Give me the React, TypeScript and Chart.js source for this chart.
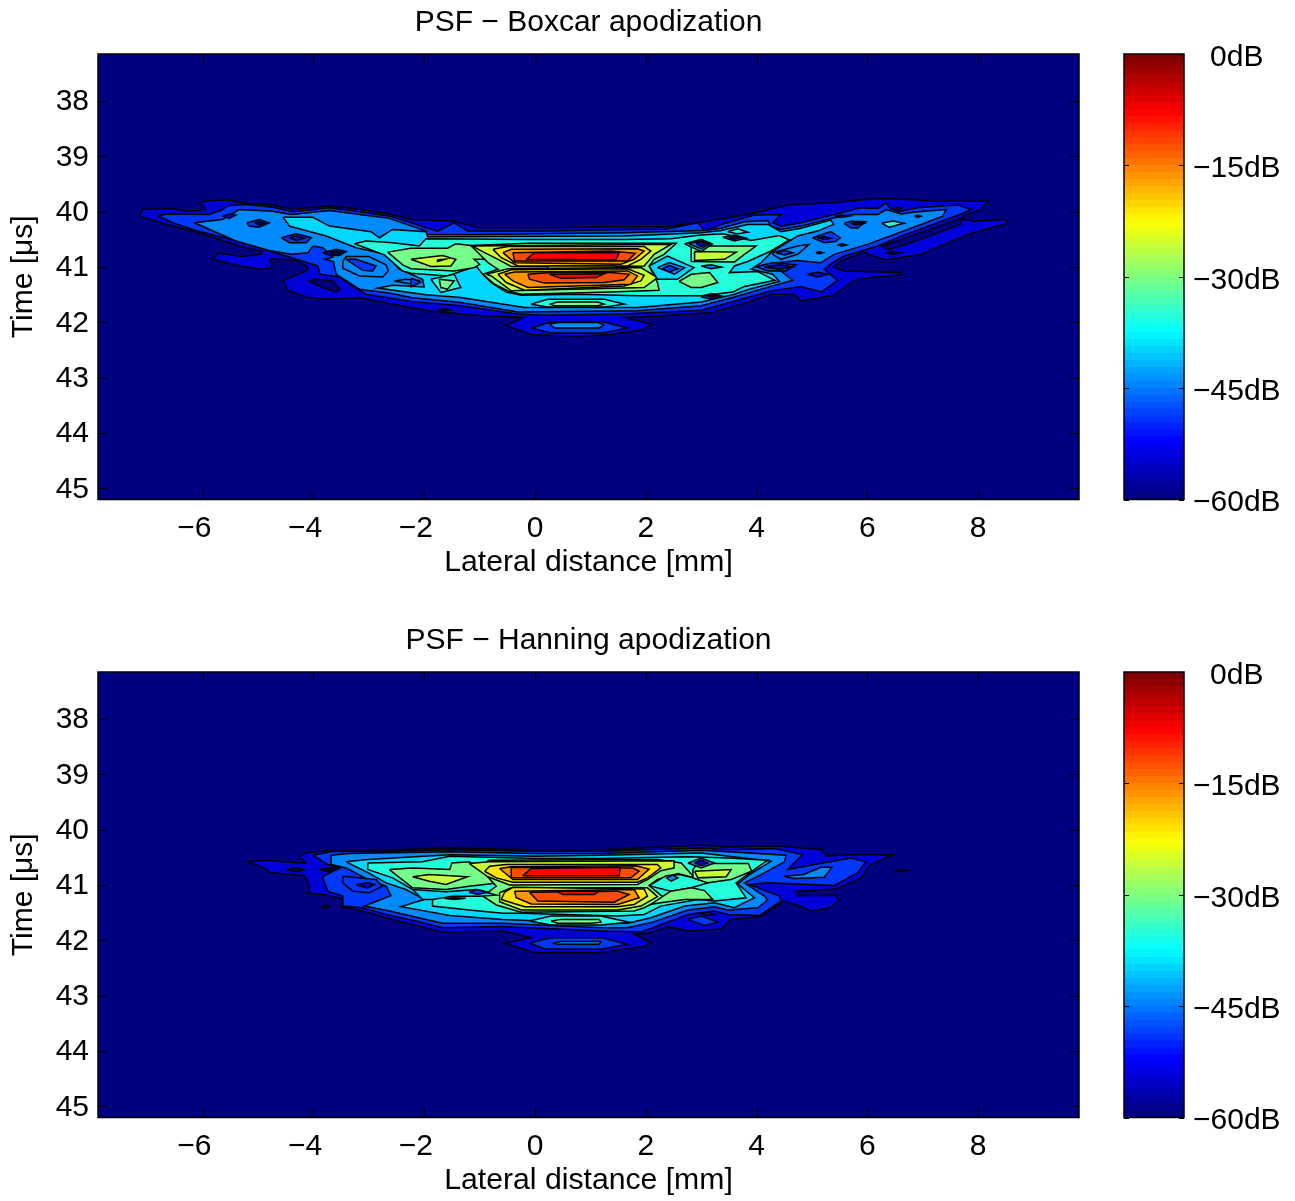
import React, { useEffect, useRef } from "react";
import { Chart, registerables } from "chart.js";

Chart.register(...registerables);

type Pt = [number, number];
type Layer = [number, Pt[]];

const xLimits = [-7.89, 9.82];
const yLimits = [37.15, 45.2];
const xTicks = [-6, -4, -2, 0, 2, 4, 6, 8];
const yTicks = [38, 39, 40, 41, 42, 43, 44, 45];
const dbTicks = [-60, -45, -30, -15, 0];
const levelPositions = [0, 0.09, 0.18, 0.26, 0.335, 0.41, 0.49, 0.57, 0.65, 0.73, 0.8, 0.875];
const FONT = "'Liberation Sans', Arial, sans-serif";
const FS = 30;

const bgRect: Pt[] = [[xLimits[0], yLimits[0]], [xLimits[1], yLimits[0]], [xLimits[1], yLimits[1]], [xLimits[0], yLimits[1]]];

// ---------- upper panel: boxcar contours (lateral mm, time us) ----------
const bOuter: Pt[] = [[-7.14,40.08],[-7.09,39.96],[-6.6,39.94],[-6.24,39.99],[-5.94,39.96],[-6.05,39.84],[-5.91,39.8],[-5.52,39.79],[-5.22,39.85],[-4.74,39.88],[-4.37,39.96],[-3.71,39.89],[-3.17,39.96],[-2.63,40.04],[-2.24,40.14],[-1.46,40.17],[-1.03,40.29],[0.17,40.29],[1.37,40.27],[2.33,40.27],[2.94,40.2],[3.84,40.05],[4.56,39.88],[5.4,39.84],[6.13,39.76],[6.61,39.77],[7.21,39.81],[8.2,39.81],[8.02,39.97],[7.72,40.08],[7.72,40.14],[7.93,40.17],[8.5,40.14],[8.53,40.21],[7.81,40.41],[6.97,40.77],[6.31,40.87],[6.03,40.77],[5.94,40.73],[5.52,40.89],[5.39,41],[5.58,41.07],[6.61,41.1],[6.61,41.14],[6.13,41.18],[5.76,41.24],[5.4,41.51],[4.8,41.61],[4.68,41.49],[4.26,41.49],[3.72,41.67],[3.18,41.82],[1.97,41.9],[1.61,41.91],[2.09,42.03],[1.97,42.13],[1.37,42.22],[0.77,42.25],[-0.07,42.22],[-0.52,42.05],[-0.19,41.91],[-1.03,41.87],[-1.94,41.79],[-2.57,41.67],[-3.17,41.55],[-3.77,41.58],[-4.13,41.54],[-4.46,41.42],[-4.55,41.25],[-4.13,41.07],[-4.1,41],[-4.31,40.88],[-4.74,40.85],[-4.78,40.86],[-4.74,41.01],[-4.98,41.04],[-5.34,40.98],[-5.81,40.86],[-5.73,40.75],[-5.28,40.81],[-4.95,40.77],[-4.92,40.72],[-5.34,40.62],[-6.18,40.35],[-6.66,40.23]];
const bLevel2: Pt[] = [[-6.81,40.07],[-6.6,40.04],[-5.88,40.05],[-5.64,39.96],[-5.55,39.89],[-5.22,39.87],[-4.74,39.92],[-4.37,40],[-3.71,39.93],[-3.17,40],[-2.63,40.08],[-2.24,40.2],[-1.97,40.29],[-1.76,40.35],[-1.46,40.2],[-1.22,40.35],[0.17,40.35],[1.61,40.32],[2.33,40.32],[2.94,40.2],[3.06,40.35],[3.36,40.23],[3.96,40.06],[4.44,40.05],[4.29,40.2],[4.44,40.26],[4.8,40.2],[5.4,40.05],[5.88,39.93],[6.19,39.94],[6.34,39.84],[6.4,39.93],[6.55,40],[6.91,39.93],[7.63,39.88],[7.87,39.96],[7.69,40.04],[6.61,40.44],[6.19,40.62],[5.58,40.8],[5.37,40.92],[5.22,41.04],[5.46,41.24],[5.17,41.45],[4.8,41.35],[4.26,41.43],[3.72,41.58],[3,41.78],[1.61,41.85],[0.17,41.87],[-0.31,41.85],[-1.34,41.7],[-2.24,41.62],[-3.05,41.49],[-3.29,41.34],[-3.53,41.18],[-3.88,41.13],[-3.92,40.98],[-4.31,40.86],[-4.98,40.65],[-5.34,40.54],[-6.12,40.34],[-6.54,40.2]];
const bLevel3: Pt[] = [[-6.15,40.2],[-5.64,40.14],[-5.34,39.96],[-4.74,39.99],[-4.4,40.05],[-3.71,39.98],[-3.17,40.05],[-2.63,40.12],[-1.97,40.35],[-1.94,40.41],[-1.03,40.41],[1.61,40.38],[3.06,40.34],[3.36,40.3],[3.78,40.18],[4.2,40.16],[4.26,40.26],[4.44,40.32],[4.8,40.26],[5.4,40.11],[5.76,40.05],[6.19,40.05],[6.34,39.96],[6.61,40.04],[6.91,40],[7.42,39.96],[7.36,40.08],[6.97,40.23],[6,40.59],[5.4,40.77],[5.16,40.92],[4.74,40.88],[4.2,40.94],[4.02,41],[4.44,41.07],[4.65,41.24],[4.29,41.34],[3.6,41.54],[3,41.7],[1.85,41.79],[-0.31,41.81],[-1.34,41.64],[-2.24,41.55],[-2.63,41.47],[-3.17,41.4],[-3.59,41.13],[-3.64,40.9],[-3.79,40.86],[-3.65,40.82],[-3.83,40.65],[-4.01,40.62],[-4.1,40.74],[-4.4,40.77],[-4.8,40.7],[-5.4,40.53]];
const bLevel4: Pt[] = [[-4.55,40.1],[-4.01,40.1],[-3.71,40.26],[-2.96,40.36],[-2.81,40.47],[-2.57,40.32],[-1.97,40.36],[-1.94,40.45],[1.61,40.44],[3,40.38],[3.36,40.34],[3.84,40.23],[4.2,40.23],[4.44,40.36],[4.8,40.3],[5.34,40.15],[5.39,40.23],[5.1,40.35],[4.74,40.44],[4.59,40.53],[4.26,40.74],[4.08,40.92],[3.9,41.04],[4.29,41.13],[4.41,41.26],[3.9,41.39],[3.6,41.49],[3,41.63],[1.85,41.73],[-0.19,41.73],[-1.34,41.55],[-1.97,41.5],[-2.84,41.38],[-2.57,41.33],[-2,41.36],[-2.03,41.22],[-2.45,41.04],[-2.69,40.77],[-3.23,40.65],[-3.77,40.44],[-4.43,40.26]];
const bLevel5: Pt[] = [[-3.26,40.58],[-3.05,40.53],[-2.57,40.56],[-2.09,40.62],[-1.97,40.49],[-0.19,40.5],[1.61,40.5],[2.45,40.49],[3,40.42],[3.4,40.4],[3.9,40.52],[4.41,40.43],[4.59,40.51],[4.26,40.71],[3.84,40.9],[3.6,40.98],[3.51,41.1],[4.02,41.08],[4.33,41.24],[3.78,41.35],[3.57,41.45],[3,41.52],[1.85,41.52],[0.77,41.49],[-0.25,41.51],[-0.52,41.45],[-0.79,41.28],[-0.97,41.1],[-1.06,40.98],[-1.58,41.16],[-2.24,41.11],[-2.39,41.07],[-2.72,40.78]];
const bGreenLeft: Pt[] = [[-2.66,40.73],[-2.24,40.66],[-1.58,40.66],[-1.43,40.58],[-1.16,40.61],[-0.79,40.86],[-1.1,40.86],[-1,40.95],[-1.1,41.01],[-1.46,41.07],[-2.24,41.03],[-2.39,40.96]];
const bLimeLeft: Pt[] = [[-2.24,40.86],[-1.67,40.79],[-1.43,40.86],[-1.52,40.98],[-1.88,40.99]];
const bYellowDot: Pt[] = [[-1.76,40.87],[-1.62,40.86],[-1.76,40.9]];
const bGreenRight: Pt[] = [[2.82,40.62],[3.99,40.62],[3.78,40.77],[3.6,40.91],[2.82,40.9]];
const bLimeRight: Pt[] = [[2.88,40.72],[3.63,40.73],[3.42,40.86],[2.88,40.88]];
const bGreenLowRight: Pt[] = [[2.6,41.26],[2.82,41.13],[3.15,41.1],[3.3,41.28],[3,41.37],[2.82,41.37]];
const bTurqLowLeft: Pt[] = [[-1.88,41.22],[-1.46,41.13],[-1.34,41.37],[-1.7,41.46]];
const bGreenLowLeft: Pt[] = [[-1.73,41.22],[-1.46,41.25],[-1.58,41.4],[-1.7,41.37]];
const bCenter6: Pt[] = [[-1.16,40.61],[-0.13,40.57],[1.49,40.57],[2.55,40.57],[2.33,40.77],[2.15,40.86],[2.06,40.98],[2.21,41.28],[2.24,41.42],[1.37,41.45],[-0.25,41.49],[-0.49,41.43],[-0.73,41.31],[-0.94,41.13],[-0.67,41.04],[-0.85,40.92]];
const bTop7: Pt[] = [[-1.13,40.62],[2.09,40.59],[2.45,40.59],[2.15,40.77],[1.97,40.98],[1.49,40.99],[-0.43,40.99],[-0.73,40.83],[-0.91,40.74]];
const bTop8: Pt[] = [[-0.76,40.68],[-0.49,40.63],[1.97,40.63],[2.09,40.71],[1.91,40.86],[1.67,40.98],[-0.31,40.98],[-0.61,40.83]];
const bTop9: Pt[] = [[-0.58,40.74],[-0.43,40.68],[1.85,40.67],[1.97,40.71],[1.79,40.86],[1.55,40.95],[-0.37,40.92]];
const bTop10: Pt[] = [[-0.4,40.74],[1.37,40.71],[1.81,40.75],[1.67,40.89],[-0.37,40.89]];
const bTop11: Pt[] = [[-0.16,40.86],[-0.01,40.74],[1.52,40.74],[1.46,40.87]];
const bBar8: Pt[] = [[0.23,40.98],[1.43,40.98],[1.46,41.03],[0.23,41.03]];
const bLow7: Pt[] = [[-0.88,41.13],[-0.49,41.03],[1.91,41.01],[2.21,41.19],[1.97,41.37],[-0.43,41.43],[-0.79,41.16]];
const bLow8: Pt[] = [[-0.67,41.13],[-0.43,41.05],[1.67,41.03],[1.97,41.15],[1.91,41.25],[1.61,41.34],[-0.19,41.42],[-0.52,41.28]];
const bLow9: Pt[] = [[-0.55,41.13],[-0.37,41.09],[1.67,41.07],[1.85,41.16],[1.73,41.31],[-0.13,41.37],[-0.4,41.25]];
const bLow10: Pt[] = [[-0.13,41.13],[0.29,41.1],[1.37,41.1],[1.7,41.13],[1.61,41.23],[1.25,41.28],[0.17,41.29],[-0.1,41.22]];
const bLow11: Pt[] = [[0.26,41.13],[1.25,41.12],[1.1,41.19],[0.47,41.2]];
const bRing4: Pt[] = [[2.06,40.98],[2.39,40.8],[2.87,41.01],[2.57,41.22],[2.21,41.22]];
const bRing3: Pt[] = [[2.21,41.01],[2.42,40.92],[2.7,41.01],[2.52,41.13]];
const bRing2: Pt[] = [[2.3,41.03],[2.42,40.97],[2.58,41.03],[2.42,41.09]];
const bLobe5: Pt[] = [[-0.07,41.67],[0.23,41.58],[1.25,41.58],[1.61,41.67],[1.25,41.72],[0.23,41.72]];
const bLobe6: Pt[] = [[0.26,41.67],[0.41,41.63],[1.13,41.63],[1.25,41.67],[1.13,41.7],[0.35,41.7]];
const bFoot2: Pt[] = [[-0.07,42.1],[0.29,41.99],[1.22,41.99],[1.67,42.1],[1.22,42.19],[0.29,42.19]];
const bFoot3: Pt[] = [[0.26,42.03],[0.41,42],[1.13,42],[1.24,42.05],[1.16,42.1],[0.35,42.1]];
const bHoleA: Pt[] = [[-4.09,41.25],[-3.95,41.22],[-3.65,41.25],[-3.52,41.4],[-3.59,41.45],[-3.83,41.37]];
const bHoleB: Pt[] = [[-1.75,41.78],[-1.64,41.75],[-1.53,41.78],[-1.64,41.8]];
const bHoleC: Pt[] = [[6.25,40.62],[6.61,40.5],[7.21,40.29],[7.69,40.11],[7.69,40.22],[7.21,40.41],[6.61,40.62],[6.37,40.68]];
const bHoleD: Pt[] = [[6.34,40.74],[6.46,40.72],[6.6,40.74],[6.46,40.77]];
const bDotA: Pt[] = [[-5.64,40.08],[-5.52,40.04],[-5.4,40.06],[-5.52,40.12]];
const bEyeA2: Pt[] = [[-5.2,40.2],[-4.98,40.14],[-4.8,40.2],[-4.98,40.28],[-5.16,40.26]];
const bEyeA1: Pt[] = [[-5.06,40.2],[-4.98,40.18],[-4.88,40.21],[-4.98,40.24]];
const bEyeB2: Pt[] = [[-4.58,40.47],[-4.31,40.4],[-4.04,40.47],[-4.13,40.56],[-4.43,40.56]];
const bEyeB1: Pt[] = [[-4.43,40.47],[-4.31,40.44],[-4.16,40.48],[-4.31,40.52]];
const bEyeC1: Pt[] = [[-3.83,40.74],[-3.59,40.68],[-3.41,40.72],[-3.53,40.79],[-3.71,40.79]];
const bEyeC0: Pt[] = [[-3.7,40.74],[-3.59,40.71],[-3.5,40.74],[-3.59,40.77]];
const bLoop3: Pt[] = [[-3.47,40.9],[-3.47,41.02],[-3.17,41.16],[-2.75,41.18],[-2.65,41.07],[-2.69,40.96],[-3.0,40.81],[-3.41,40.81]];
const bLoop2: Pt[] = [[-3.41,40.86],[-3.23,40.86],[-2.87,40.98],[-2.93,41.07],[-3.11,41.06]];
const bIslA: Pt[] = [[-2.54,41.25],[-2.33,41.22],[-2.11,41.24],[-2.27,41.3]];
const bIslB: Pt[] = [[-2.24,41.2],[-2.06,41.27],[-2.24,41.36]];
const bR1: Pt[] = [[5.01,40.47],[5.34,40.36],[5.51,40.47],[5.43,40.54],[5.22,40.56]];
const bR1i: Pt[] = [[5.1,40.47],[5.22,40.45],[5.34,40.48],[5.22,40.5]];
const bR2: Pt[] = [[5.58,40.21],[5.7,40.17],[5.97,40.18],[5.82,40.3],[5.7,40.29]];
const bR2i: Pt[] = [[5.7,40.21],[5.85,40.19],[5.94,40.21],[5.8,40.24]];
const bPatch: Pt[] = [[6.26,40.21],[6.46,40.17],[6.66,40.21],[6.39,40.28]];
const bDot1: Pt[] = [[5.46,40.6],[5.54,40.58],[5.62,40.6],[5.54,40.62]];
const bDot2: Pt[] = [[5.07,40.74],[5.13,40.72],[5.2,40.74],[5.13,40.76]];
const bDot3: Pt[] = [[6.85,40.08],[6.91,40.06],[6.97,40.08],[6.91,40.1]];
const bDot4: Pt[] = [[6.49,39.94],[6.55,39.92],[6.61,39.94],[6.55,39.96]];
const bDot5: Pt[] = [[5.42,40.08],[5.54,40.06],[5.66,40.08],[5.54,40.1]];
const bM3: Pt[] = [[4.29,40.74],[4.74,40.62],[4.95,40.59],[4.74,40.77],[4.44,40.86],[4.29,40.77]];
const bM2: Pt[] = [[4.35,40.74],[4.5,40.7],[4.66,40.74],[4.5,40.78]];
const bN2: Pt[] = [[3.99,40.99],[4.32,40.92],[4.71,40.96],[4.53,41.07],[4.2,41.07]];
const bN1: Pt[] = [[4.14,41],[4.41,40.96],[4.63,41],[4.41,41.04]];
const bO1: Pt[] = [[4.92,41.13],[5.1,41.09],[5.28,41.13],[5.1,41.18]];
const bP5: Pt[] = [[3.48,40.36],[3.66,40.31],[3.84,40.37],[3.66,40.4]];
const bP2: Pt[] = [[3.39,40.46],[3.6,40.42],[3.81,40.48],[3.6,40.53]];
const bP1: Pt[] = [[3.5,40.47],[3.6,40.45],[3.7,40.47],[3.6,40.5]];
const bQ4: Pt[] = [[2.7,40.58],[3,40.5],[3.2,40.58],[3,40.72]];
const bQ3: Pt[] = [[2.78,40.58],[3,40.52],[3.15,40.58],[3,40.67]];
const bQ1: Pt[] = [[2.9,40.57],[3,40.54],[3.1,40.58],[3,40.63]];
const bS2: Pt[] = [[3,41.54],[3.18,41.48],[3.36,41.52],[3.18,41.58]];
const bS1: Pt[] = [[3.1,41.52],[3.18,41.5],[3.28,41.52],[3.18,41.55]];
const bT3: Pt[] = [[3,40.98],[3.18,40.96],[3.36,41],[3.18,41.03]];

const boxcarLayers: Layer[] = [
  [0, bgRect],[1, bOuter],[2, bLevel2],[3, bLevel3],[4, bLevel4],[5, bLevel5],
  [6, bGreenLeft],[7, bLimeLeft],[8, bYellowDot],[6, bGreenRight],[7, bLimeRight],[6, bGreenLowRight],
  [5, bTurqLowLeft],[6, bGreenLowLeft],
  [6, bCenter6],[7, bTop7],[8, bTop8],[9, bTop9],[10, bTop10],[11, bTop11],[8, bBar8],
  [7, bLow7],[8, bLow8],[9, bLow9],[10, bLow10],[11, bLow11],
  [4, bRing4],[3, bRing3],[2, bRing2],[5, bLobe5],[6, bLobe6],[2, bFoot2],[3, bFoot3],
  [0, bHoleA],[0, bHoleB],[0, bHoleC],[0, bHoleD],[1, bDotA],[2, bEyeA2],[1, bEyeA1],[2, bEyeB2],[1, bEyeB1],[1, bEyeC1],[0, bEyeC0],
  [3, bLoop3],[2, bLoop2],[3, bIslA],[2, bIslB],[2, bR1],[1, bR1i],[2, bR2],[1, bR2i],[5, bPatch],
  [1, bDot1],[1, bDot2],[1, bDot3],[1, bDot4],[1, bDot5],[3, bM3],[2, bM2],[2, bN2],[1, bN1],[1, bO1],
  [5, bP5],[2, bP2],[1, bP1],[4, bQ4],[3, bQ3],[1, bQ1],[2, bS2],[1, bS1],[3, bT3],
];

// ---------- lower panel: hanning contours ----------
const hOuter: Pt[] = [[-5.2,40.58],[-4.86,40.55],[-4.25,40.6],[-4.13,40.6],[-4.25,40.49],[-4.16,40.42],[-3.59,40.36],[-2.87,40.37],[-1.54,40.33],[0.02,40.36],[1.19,40.36],[3,40.28],[3.48,40.31],[4.32,40.29],[5.19,40.36],[5.25,40.48],[5.64,40.45],[6.46,40.45],[6.06,40.63],[5.88,40.87],[5.43,41.07],[4.71,41.11],[4.74,41.19],[5.43,41.19],[5.49,41.26],[5.34,41.41],[4.98,41.47],[4.83,41.4],[4.5,41.29],[4.08,41.56],[3.54,41.62],[3.36,41.79],[2.76,41.83],[2.39,41.75],[2.09,41.86],[1.79,41.89],[2.09,42.04],[1.97,42.11],[1.19,42.22],[-0.01,42.22],[-0.55,42.05],[-0.07,41.95],[-0.31,41.89],[-0.58,41.83],[-1.67,41.85],[-2.15,41.73],[-2.81,41.56],[-3.11,41.47],[-3.5,41.39],[-3.44,41.26],[-3.71,41.19],[-4.1,41.14],[-4.07,41.02],[-4.16,40.83],[-4.8,40.77],[-4.89,40.69]];
const hLevel2: Pt[] = [[-4.01,40.46],[-3.65,40.39],[-2.87,40.4],[-1.54,40.36],[0.02,40.39],[1.19,40.39],[3,40.33],[3.48,40.36],[4.32,40.34],[4.83,40.45],[4.56,40.72],[4.92,40.65],[5.7,40.51],[5.97,40.58],[5.82,40.78],[5.4,41.01],[4.2,40.96],[3.87,40.99],[4.41,41.2],[4.44,41.29],[4.05,41.55],[3.48,41.53],[3.24,41.47],[2.76,41.53],[2.21,41.74],[1.91,41.85],[1.19,41.83],[-0.58,41.75],[-1.67,41.77],[-2.15,41.65],[-2.69,41.53],[-3.11,41.41],[-3.47,41.38],[-3.47,41.2],[-3.74,41.11],[-3.84,40.85],[-3.53,40.69],[-3.74,40.63]];
const hLevel3: Pt[] = [[-3.68,40.46],[-3.35,40.43],[-1.54,40.4],[0.02,40.43],[1.19,40.43],[3,40.37],[3.48,40.4],[4.53,40.46],[4.5,40.58],[4.08,40.81],[3.78,40.96],[4.14,41.2],[4.2,41.27],[4.02,41.41],[3.48,41.45],[3.24,41.39],[2.76,41.45],[2.12,41.67],[1.67,41.77],[1.19,41.77],[-0.58,41.69],[-1.67,41.69],[-2.63,41.47],[-3.08,41.38],[-2.6,41.19],[-2.69,41.02],[-3.02,40.9],[-3.41,40.69],[-3.68,40.63]];
const hLevel4: Pt[] = [[-3.41,40.58],[-3.02,40.54],[-1.54,40.45],[0.02,40.48],[1.19,40.46],[3,40.42],[4.26,40.57],[3.87,40.81],[3.66,40.98],[3.96,41.23],[3.6,41.41],[3.24,41.32],[2.7,41.38],[2.09,41.59],[1.67,41.69],[1.19,41.69],[-0.58,41.62],[-1.54,41.55],[-2.42,41.39],[-2,41.26],[-2.33,41.08],[-2.69,40.96],[-2.99,40.79]];
const hLevel5: Pt[] = [[-3.02,40.6],[-2.03,40.58],[-1.54,40.48],[0.02,40.52],[1.19,40.52],[2.76,40.49],[3.48,40.51],[4.2,40.55],[4.08,40.63],[3.63,40.96],[3.81,41.23],[3.24,41.29],[2.94,41.26],[2.27,41.38],[1.97,41.53],[1.49,41.56],[-0.25,41.51],[-0.58,41.51],[-1.19,41.45],[-1.85,41.38],[-1.85,41.26],[-2.21,41.08],[-2.57,40.87],[-3.02,40.72]];
const hGreenLeft: Pt[] = [[-2.63,40.72],[-2.21,40.69],[-1.54,40.72],[-1.5,40.6],[-1.19,40.58],[-0.82,40.81],[-0.4,40.87],[-0.64,40.96],[-1.19,41.02],[-1.61,41.08],[-2.21,41.05]];
const hLimeLeft: Pt[] = [[-2.21,40.85],[-1.91,40.81],[-1.22,40.85],[-1.61,40.99],[-1.91,40.93]];
const hCenter6: Pt[] = [[-0.85,40.55],[2.21,40.54],[2.64,40.6],[2.88,40.87],[2.58,40.79],[2.21,40.9],[2.06,41.01],[2.33,41.23],[1.97,41.41],[1.79,41.47],[-0.25,41.49],[-0.7,41.36],[-0.94,41.2],[-0.7,41.02],[-0.9,40.8]];
const hTop7: Pt[] = [[-1.19,40.61],[-0.82,40.58],[2.51,40.56],[2.51,40.69],[2.27,40.74],[2.03,40.9],[1.85,40.99],[-0.46,41],[-0.85,40.85]];
const hTop8: Pt[] = [[-0.91,40.75],[-0.82,40.66],[-0.52,40.63],[2.21,40.63],[2.27,40.69],[2.03,40.87],[1.85,40.95],[-0.4,40.95],[-0.7,40.87]];
const hTop9: Pt[] = [[-0.64,40.7],[-0.43,40.67],[1.82,40.65],[2.06,40.71],[1.85,40.9],[-0.4,40.9]];
const hTop10: Pt[] = [[-0.43,40.68],[1.76,40.69],[1.88,40.75],[1.73,40.87],[-0.43,40.87]];
const hTop11: Pt[] = [[-0.22,40.83],[-0.07,40.7],[1.54,40.68],[1.52,40.83]];
const hLow7: Pt[] = [[-0.64,41.14],[-0.43,41.05],[2.03,41.05],[2.21,41.21],[1.91,41.38],[1.49,41.45],[-0.25,41.45],[-0.64,41.3]];
const hLow8: Pt[] = [[-0.55,41.13],[-0.4,41.04],[1.97,41.07],[2.03,41.2],[1.79,41.35],[1.49,41.39],[-0.19,41.39],[-0.61,41.26]];
const hLow9: Pt[] = [[-0.37,41.11],[1.79,41.08],[1.88,41.23],[1.49,41.35],[-0.07,41.34],[-0.34,41.23]];
const hLow10: Pt[] = [[-0.1,41.13],[1.49,41.11],[1.7,41.17],[1.43,41.31],[0.05,41.29]];
const hLow11: Pt[] = [[0.38,41.11],[1.16,41.11],[1.07,41.17],[0.5,41.17]];
const hGap5: Pt[] = [[2.06,41.01],[2.37,40.83],[2.61,40.81],[2.85,40.87],[3.12,40.96],[2.82,41.05],[2.45,41.11]];
const hGap3: Pt[] = [[2.37,40.87],[2.49,40.82],[2.58,40.87],[2.46,40.93]];
const hGreenRight: Pt[] = [[2.85,40.72],[2.91,40.64],[3.18,40.61],[3.85,40.61],[3.91,40.75],[3.54,40.9],[3.12,40.96],[2.85,40.87]];
const hLimeRight: Pt[] = [[2.88,40.75],[3.54,40.72],[3.45,40.85],[2.94,40.87]];
const hGreenLow: Pt[] = [[2.45,41.11],[2.82,41.05],[3.06,41.1],[3.21,41.26],[2.7,41.26],[2.27,41.32],[2.09,41.35]];
const hEye3: Pt[] = [[2.76,40.6],[3,40.51],[3.24,40.6],[3,40.69]];
const hEye1: Pt[] = [[2.88,40.6],[3,40.55],[3.12,40.6],[3,40.65]];
const hUnder1: Pt[] = [[2.97,41.51],[3.12,41.49],[3.24,41.53],[3.12,41.55]];
const hUnder2: Pt[] = [[2.76,41.62],[3,41.56],[3.3,41.67],[3.06,41.73]];
const hLobe5: Pt[] = [[-0.1,41.65],[0.29,41.56],[1.19,41.56],[1.7,41.67],[1.19,41.72],[0.29,41.72]];
const hLobe6: Pt[] = [[0.29,41.65],[0.47,41.62],[1.16,41.62],[1.19,41.67],[1.01,41.69],[0.41,41.69]];
const hFoot2: Pt[] = [[-0.1,42.05],[0.29,41.95],[1.19,41.95],[1.67,42.07],[1.19,42.16],[0.17,42.15]];
const hFoot3: Pt[] = [[0.32,42.05],[0.47,42.02],[1.19,42.02],[1.16,42.07],[0.41,42.07]];
const hTongue3: Pt[] = [[4.5,40.84],[4.85,40.81],[5.16,40.68],[5.36,40.68],[5.22,40.86],[4.68,40.88]];
const hLoop2: Pt[] = [[-3.47,40.84],[-2.87,40.9],[-2.76,41.02],[-2.99,41.14],[-3.29,41.11],[-3.47,40.96]];
const hLoop1: Pt[] = [[-3.23,41],[-3.02,40.96],[-2.9,40.99],[-3.02,41.05]];
const hSwirl4: Pt[] = [[-2.21,41.08],[-1.61,41.12],[-1.07,41.08],[-0.7,41.18],[-1.0,41.2],[-1.49,41.2],[-1.85,41.26],[-2.03,41.26]];
const hSwirl2: Pt[] = [[-1.19,41.13],[-1.04,41.08],[-0.85,41.13],[-1.04,41.17]];
const hDash: Pt[] = [[-1.64,41.24],[-1.46,41.23],[-1.25,41.24],[-1.46,41.26]];
const hDotA: Pt[] = [[-4.49,40.72],[-4.31,40.69],[-4.16,40.72],[-4.31,40.76]];
const hDotB: Pt[] = [[-3.89,40.72],[-3.71,40.69],[-3.58,40.72],[-3.74,40.76]];
const hDotC: Pt[] = [[-3.86,41.39],[-3.78,41.37],[-3.71,41.39],[-3.78,41.42]];
const hDotD: Pt[] = [[6.48,40.74],[6.6,40.73],[6.72,40.74],[6.6,40.76]];

const hanningLayers: Layer[] = [
  [0, bgRect],[1, hOuter],[2, hLevel2],[3, hLevel3],[4, hLevel4],[5, hLevel5],
  [6, hGreenLeft],[7, hLimeLeft],[6, hCenter6],[7, hTop7],[8, hTop8],[9, hTop9],[10, hTop10],[11, hTop11],
  [7, hLow7],[8, hLow8],[9, hLow9],[10, hLow10],[11, hLow11],
  [5, hGap5],[3, hGap3],[6, hGreenRight],[7, hLimeRight],[6, hGreenLow],[3, hEye3],[1, hEye1],
  [1, hUnder1],[2, hUnder2],[5, hLobe5],[6, hLobe6],[2, hFoot2],[3, hFoot3],[3, hTongue3],
  [2, hLoop2],[1, hLoop1],[4, hSwirl4],[2, hSwirl2],[4, hDash],
  [0, hDotA],[0, hDotB],[1, hDotC],[1, hDotD],
];

function jet(t: number): string {
  const c = (v: number) => Math.round(255 * Math.max(0, Math.min(1, v)));
  return `rgb(${c(1.5 - Math.abs(4 * t - 3))},${c(1.5 - Math.abs(4 * t - 2))},${c(1.5 - Math.abs(4 * t - 1))})`;
}

const minus = (v: number) => (v < 0 ? "\u2212" + -v : String(v));

function frame(tickLen: number, showX: boolean) {
  return {
    id: "frame",
    afterDraw(chart: any) {
      const { ctx, chartArea: a, scales } = chart;
      ctx.save();
      ctx.strokeStyle = "#000";
      ctx.lineWidth = 1;
      ctx.beginPath();
      if (showX) {
        for (const t of scales.x.ticks) {
          const p = Math.round(scales.x.getPixelForValue(t.value)) + 0.5;
          ctx.moveTo(p, a.bottom);
          ctx.lineTo(p, a.bottom - tickLen);
          ctx.moveTo(p, a.top);
          ctx.lineTo(p, a.top + tickLen);
        }
      }
      for (const t of scales.y.ticks) {
        const p = Math.round(scales.y.getPixelForValue(t.value)) + 0.5;
        ctx.moveTo(a.left, p);
        ctx.lineTo(a.left + tickLen, p);
        ctx.moveTo(a.right, p);
        ctx.lineTo(a.right - tickLen, p);
      }
      ctx.stroke();
      ctx.lineWidth = 1.5;
      ctx.strokeRect(a.left, a.top, a.right - a.left, a.bottom - a.top);
      ctx.restore();
    },
  };
}

function contourConfig(title: string, layers: Layer[]): any {
  const font = { family: FONT, size: FS };
  return {
    type: "scatter",
    data: {
      datasets: layers.map(([level, pts], i) => ({
        data: pts.concat([pts[0]]).map(([x, y]) => ({ x, y })),
        showLine: true,
        fill: "shape",
        backgroundColor: jet(levelPositions[level]),
        borderColor: i === 0 ? "rgba(0,0,0,0)" : "#000",
        borderWidth: i === 0 ? 0 : 1.5,
        pointRadius: 0,
        tension: 0,
        order: layers.length - i,
      })),
    },
    options: {
      animation: false,
      responsive: false,
      devicePixelRatio: 1,
      layout: { padding: { right: 31 } },
      plugins: {
        legend: { display: false },
        tooltip: { enabled: false },
        title: { display: true, text: title, color: "#000", fullSize: false, font: { family: FONT, size: 30, weight: "normal" }, padding: { top: 5, bottom: 13 } },
      },
      scales: {
        x: {
          type: "linear",
          min: xLimits[0],
          max: xLimits[1],
          afterBuildTicks: (s: any) => { s.ticks = xTicks.map((value) => ({ value })); },
          afterFit: (s: any) => { s.height = 90.5; },
          grid: { display: false, drawTicks: false },
          border: { display: false },
          ticks: { color: "#000", font, padding: 11, maxRotation: 0, autoSkip: false, callback: (v: number) => (v < 0 ? minus(v) + "\u00a0\u00a0" : String(v)) },
          title: { display: true, text: "Lateral distance [mm]", color: "#000", font: { family: FONT, size: 30.2 }, padding: { top: 0, bottom: 9 } },
        },
        y: {
          type: "linear",
          reverse: true,
          min: yLimits[0],
          max: yLimits[1],
          afterBuildTicks: (s: any) => { s.ticks = yTicks.map((value) => ({ value })); },
          afterFit: (s: any) => { s.width = 98; },
          grid: { display: false, drawTicks: false },
          border: { display: false },
          ticks: { color: "#000", font, padding: 9, labelOffset: 1, autoSkip: false, callback: (v: number) => String(v) },
          title: { display: true, text: "Time [\u03bcs]", color: "#000", font, padding: { top: 6, bottom: 0 } },
        },
      },
    },
  };
}

function colorbarConfig(): any {
  const steps = Array.from({ length: 64 }, (_, i) => i);
  return {
    type: "bar",
    data: {
      labels: [""],
      datasets: steps.map((i) => ({
        data: [[-60 + (i * 60) / 64 - (i > 0 ? 0.05 : 0), -60 + ((i + 1) * 60) / 64]],
        backgroundColor: jet(i / 63),
        borderWidth: 0,
        barPercentage: 1,
        categoryPercentage: 1,
        grouped: false,
      })),
    },
    options: {
      animation: false,
      responsive: false,
      devicePixelRatio: 1,
      layout: { padding: { left: 24, top: 54, bottom: 90.5 } },
      plugins: { legend: { display: false }, tooltip: { enabled: false } },
      scales: {
        x: { display: false, grid: { display: false } },
        y: {
          position: "right",
          min: -60,
          max: 0,
          afterBuildTicks: (s: any) => { s.ticks = dbTicks.map((value) => ({ value })); },
          afterFit: (s: any) => { s.width = 111; },
          grid: { display: false, drawTicks: false },
          border: { display: false },
          ticks: { color: "#000", font: { family: FONT, size: FS }, padding: 9, labelOffset: 3.5, crossAlign: "center", autoSkip: false, callback: (v: number) => minus(v) + "dB" },
        },
      },
    },
  };
}

function Plot({ left, top, width, height, config, plugin }: any) {
  const ref = useRef<HTMLCanvasElement>(null);
  useEffect(() => {
    const chart = new Chart(ref.current as HTMLCanvasElement, { ...config, plugins: [plugin] });
    return () => chart.destroy();
  }, []);
  return <canvas ref={ref} width={width} height={height} style={{ position: "absolute", left, top, width, height, display: "block" }} />;
}

export default function App() {
  return (
    <div style={{ position: "absolute", left: 0, top: 0, width: 1295, height: 1201, overflow: "hidden", background: "#fff" }}>
      <Plot left={0} top={0} width={1110} height={590} config={contourConfig("PSF \u2212 Boxcar apodization", boxcarLayers)} plugin={frame(9.5, true)} />
      <Plot left={1100} top={0} width={195} height={590} config={colorbarConfig()} plugin={frame(5, false)} />
      <Plot left={0} top={618} width={1110} height={590} config={contourConfig("PSF \u2212 Hanning apodization", hanningLayers)} plugin={frame(9.5, true)} />
      <Plot left={1100} top={618} width={195} height={590} config={colorbarConfig()} plugin={frame(5, false)} />
    </div>
  );
}
